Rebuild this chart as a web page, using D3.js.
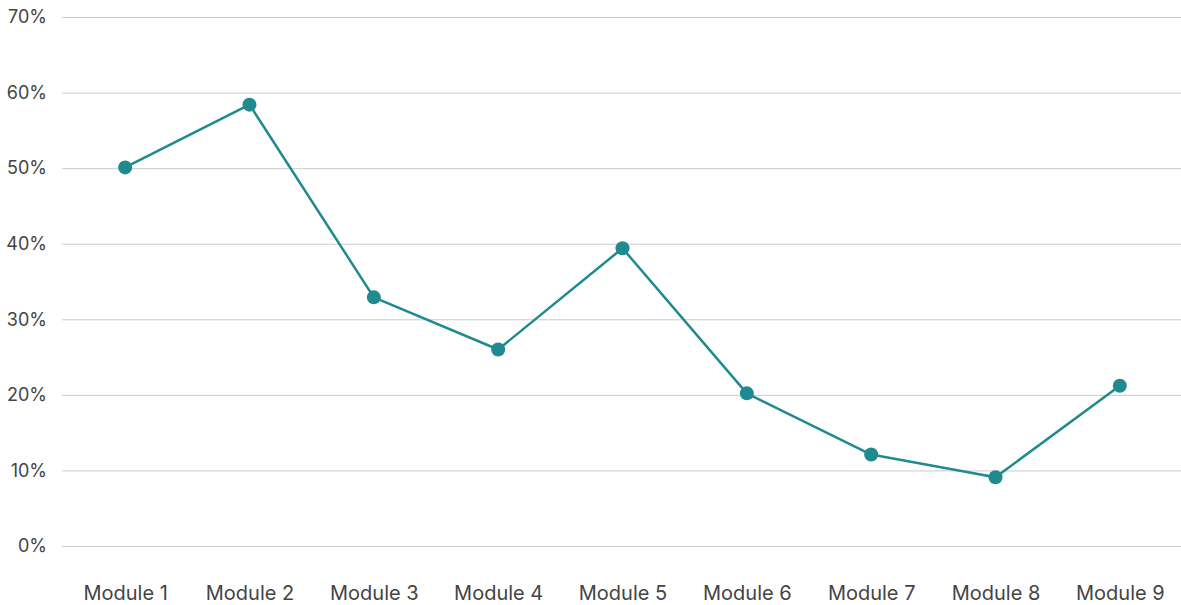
<!DOCTYPE html>
<html>
<head>
<meta charset="utf-8">
<script src="https://cdn.jsdelivr.net/npm/d3@7"></script>
<style>
  html, body { margin: 0; padding: 0; background: #fff; }
  svg { display: block; }
  svg text { font-family: Inter, "Open Sans", sans-serif; }
</style>
</head>
<body>
<svg id="chart" width="1181" height="605"></svg>
<script>
// Completion share per module
const modules = ["Module 1", "Module 2", "Module 3", "Module 4", "Module 5", "Module 6", "Module 7", "Module 8", "Module 9"];
const rates = [0.501, 0.584, 0.329, 0.26, 0.394, 0.202, 0.121, 0.091, 0.212];
const yTicks = [0, 0.1, 0.2, 0.3, 0.4, 0.5, 0.6, 0.7];

const svg = d3.select("#chart");
const W = 1181;
const plotLeft = 62, plotTop = 17, plotBottom = 546;

const x = d3.scalePoint().domain(modules).range([plotLeft + 1, W + 1]).padding(0.5);
const y = d3.scaleLinear().domain([0, 0.7]).range([plotBottom, plotTop]);

// Horizontal gridlines with percentage labels
const yAxis = d3.axisLeft(y)
  .tickValues(yTicks)
  .tickFormat(d3.format(".0%"))
  .tickSize(-(W - plotLeft))
  .tickPadding(15);

const gy = svg.append("g").attr("transform", `translate(${plotLeft},0)`).call(yAxis);
gy.select(".domain").remove();
gy.selectAll(".tick line").attr("stroke", "#cccccc").attr("stroke-width", 1);
gy.selectAll(".tick text")
  .attr("fill", "#444")
  .style("font-family", "Inter, 'Open Sans', sans-serif")
  .style("font-size", "18px");

// Category labels
const xAxis = d3.axisBottom(x).tickSize(0).tickPadding(0);
const gx = svg.append("g").attr("transform", `translate(0,${plotBottom + 37})`).call(xAxis);
gx.select(".domain").remove();
gx.selectAll(".tick text")
  .attr("fill", "#444")
  .style("font-family", "Inter, 'Open Sans', sans-serif")
  .style("font-size", "20px")
  .attr("dy", "0.85em");

const color = "#1f8a8f";
const line = d3.line().x((d, i) => x(modules[i])).y(d => y(d));

svg.append("path")
  .datum(rates)
  .attr("fill", "none")
  .attr("stroke", color)
  .attr("stroke-width", 2.5)
  .attr("stroke-linejoin", "round")
  .attr("d", line);

svg.append("g").selectAll("circle")
  .data(rates)
  .join("circle")
  .attr("cx", (d, i) => x(modules[i]))
  .attr("cy", d => y(d))
  .attr("r", 7)
  .attr("fill", color);
</script>
</body>
</html>
